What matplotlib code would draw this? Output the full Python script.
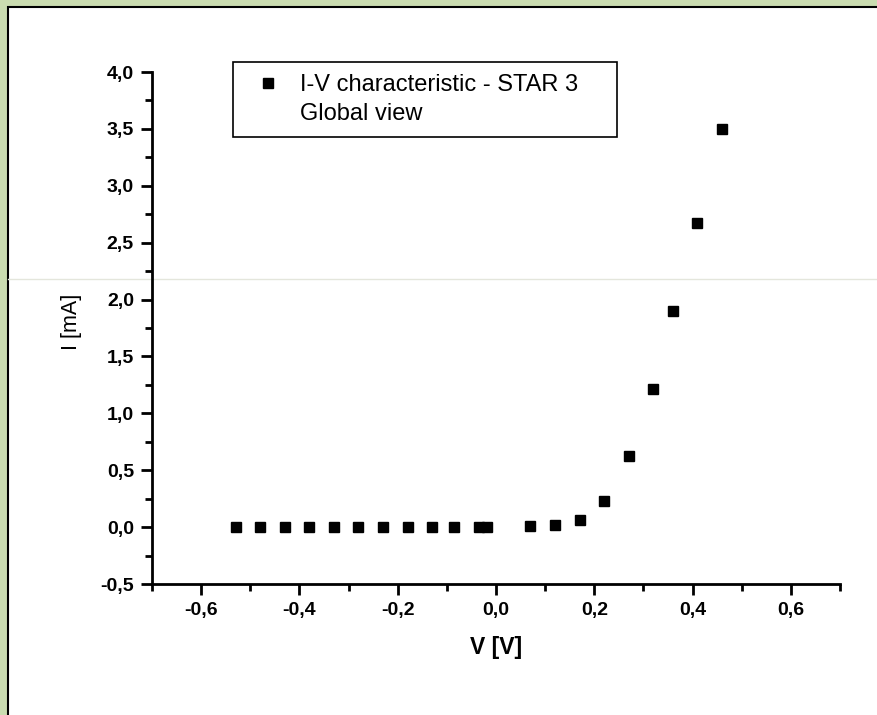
import matplotlib
matplotlib.use('Agg')
import matplotlib.pyplot as plt
from matplotlib.patches import Rectangle
from matplotlib.lines import Line2D

plt.rcParams['font.family'] = ['Liberation Sans', 'DejaVu Sans']

# measured I-V points
voltage = [-0.53, -0.48, -0.43, -0.38, -0.33, -0.28, -0.23, -0.18, -0.13, -0.085,
           -0.035, -0.018, 0.07, 0.12, 0.17, 0.22, 0.27, 0.32, 0.36, 0.41, 0.46]
current = [0.0, 0.0, 0.0, 0.0, 0.0, 0.0, 0.0, 0.0, 0.0, 0.005,
           0.005, 0.005, 0.008, 0.015, 0.063, 0.233, 0.626, 1.214, 1.90, 2.673, 3.50]

xticks = [-0.6, -0.4, -0.2, 0.0, 0.2, 0.4, 0.6]
xtick_labels = ['-0,6', '-0,4', '-0,2', '0,0', '0,2', '0,4', '0,6']
yticks = [-0.5, 0.0, 0.5, 1.0, 1.5, 2.0, 2.5, 3.0, 3.5, 4.0]
ytick_labels = ['-0,5', '0,0', '0,5', '1,0', '1,5', '2,0', '2,5', '3,0', '3,5', '4,0']
legend_lines = ['I-V characteristic - STAR 3', 'Global view']

fig = plt.figure(figsize=(8.78, 7.15), dpi=100)
fig.patch.set_facecolor('#cadcb0')
# white page with black frame
fig.patches.append(Rectangle((8/878, -0.01), 1.0, 1 - 7/715 + 0.01, transform=fig.transFigure,
                             facecolor='white', edgecolor='black', linewidth=1.5, zorder=-10))
# faint scan line
fig.lines.append(Line2D([8/878, 1], [1 - 279/715, 1 - 279/715], transform=fig.transFigure,
                        color='#e4e6dc', linewidth=1, zorder=-5))

ax = fig.add_axes([152/878, 1 - 584/715, 688/878, 512/715])
ax.set_facecolor('none')
pts, = ax.plot(voltage, current, linestyle='none', marker='s', markersize=7.5,
               color='black')

ax.set_xlim(-0.7, 0.7)
ax.set_ylim(-0.5, 4.0)
ax.set_xticks(xticks)
ax.set_xticklabels(xtick_labels, fontweight='bold', fontsize=14)
ax.set_yticks(yticks)
ax.set_yticklabels(ytick_labels, fontweight='bold', fontsize=14)
ax.set_xticks([-0.7, -0.5, -0.3, -0.1, 0.1, 0.3, 0.5, 0.7], minor=True)
ax.set_yticks([-0.25, 0.25, 0.75, 1.25, 1.75, 2.25, 2.75, 3.25, 3.75], minor=True)
ax.tick_params(which='major', direction='out', length=8, width=2, pad=5)
ax.tick_params(which='minor', direction='out', length=5, width=2)

for side in ['top', 'right']:
    ax.spines[side].set_visible(False)
for side in ['left', 'bottom']:
    ax.spines[side].set_linewidth(2)

ax.set_xlabel('V [V]', fontsize=16.5, fontweight='bold', labelpad=12)
ax.set_ylabel('I [mA]', fontsize=15.5)
ax.yaxis.set_label_coords(-0.102, 0.512)

blank = Line2D([], [], linestyle='none', marker='none')
leg = ax.legend([pts, blank], legend_lines, loc='upper left',
                bbox_to_anchor=(81/688, 1 + 10/512, 384/688, 0.0), mode='expand',
                fontsize=17, frameon=True, fancybox=False, edgecolor='black', framealpha=1,
                handlelength=2.0, handletextpad=0.33, borderpad=0.5, labelspacing=0.3,
                borderaxespad=0)
leg.get_frame().set_linewidth(1.2)

fig.savefig('out.png', dpi=100, facecolor=fig.get_facecolor())
